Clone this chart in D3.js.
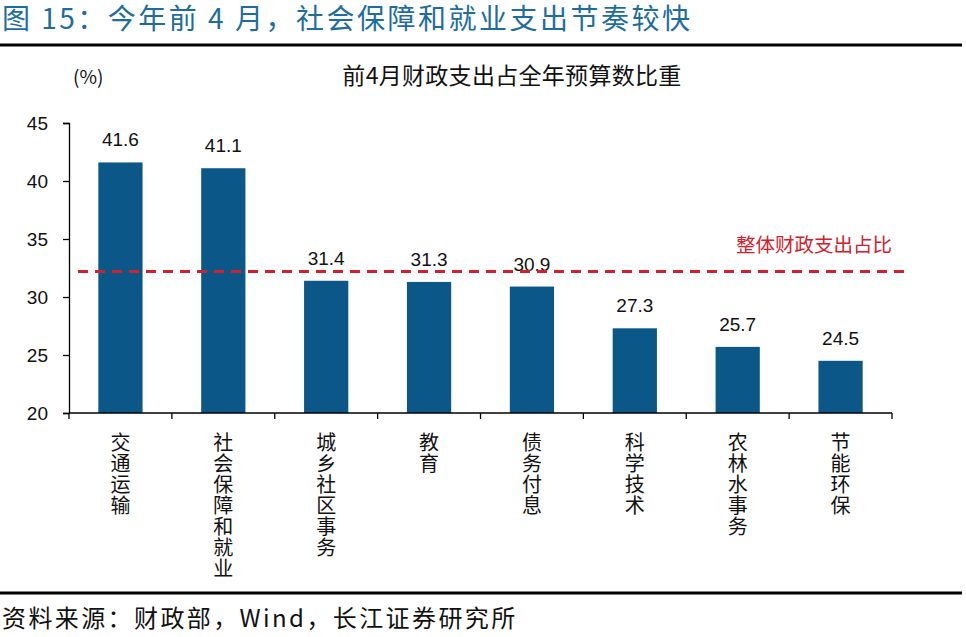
<!DOCTYPE html>
<html>
<head>
<meta charset="utf-8">
<script src="https://cdn.jsdelivr.net/npm/d3@7"></script>
<style>
  body { margin: 0; background: #fff; }
  svg { display: block; }
  .cjk { font-family: "Noto Sans CJK SC", sans-serif; }
  .num { font-family: "Liberation Sans", Arial, sans-serif; }
</style>
</head>
<body>
<svg id="chart" width="966" height="637"></svg>
<script>
// Data
const categories = ["交通运输", "社会保障和就业", "城乡社区事务", "教育", "债务付息", "科学技术", "农林水事务", "节能环保"];
const values = [41.6, 41.1, 31.4, 31.3, 30.9, 27.3, 25.7, 24.5];
const overallShare = 32.2;
const yTicks = [20, 25, 30, 35, 40, 45];

const titleText = "图 15：今年前 4 月，社会保障和就业支出节奏较快";
const subtitleText = "前4月财政支出占全年预算数比重";
const refLabel = "整体财政支出占比";
const sourceText = "资料来源：财政部，Wind，长江证券研究所";

const barColor = "#0b5788";
const refColor = "#d3202c";
const titleColor = "#1d6d9f";

const svg = d3.select("#chart");

let margin = { left: 69, right: 74, top: 123, bottom: 224 };
let W = 966, H = 637;

// Scales
let x = d3.scaleBand()
  .domain(categories)
  .range([margin.left, W - margin.right])
  .paddingInner(0.57)
  .paddingOuter(0.285);

let y = d3.scaleLinear()
  .domain([20, 45])
  .range([H - margin.bottom, margin.top]);

// Title and rules
svg.append("text")
  .attr("class", "cjk")
  .attr("x", 2)
  .attr("y", 29)
  .attr("fill", titleColor)
  .style("font-size", "28px")
  .style("letter-spacing", "2.5px")
  .text(titleText);

svg.append("line")
  .attr("x1", 0).attr("x2", 962)
  .attr("y1", 45).attr("y2", 45)
  .attr("stroke", "#000").attr("stroke-width", 3);

svg.append("line")
  .attr("x1", 0).attr("x2", 962)
  .attr("y1", 593).attr("y2", 593)
  .attr("stroke", "#000").attr("stroke-width", 3);

svg.append("text")
  .attr("class", "cjk")
  .attr("x", 2)
  .attr("y", 627)
  .attr("fill", "#111")
  .style("font-size", "24px")
  .style("letter-spacing", "2.4px")
  .text(sourceText);

// Unit and chart subtitle
svg.append("text")
  .attr("class", "cjk")
  .attr("x", 73)
  .attr("y", 84)
  .style("font-size", "19px")
  .attr("fill", "#111")
  .text("(%)");

svg.append("text")
  .attr("class", "cjk")
  .attr("x", 512)
  .attr("y", 84)
  .attr("text-anchor", "middle")
  .style("font-size", "23px")
  .style("letter-spacing", "0.3px")
  .attr("fill", "#111")
  .text(subtitleText);

// Bars
svg.append("g")
  .selectAll("rect")
  .data(values)
  .enter()
  .append("rect")
  .attr("x", (d, i) => x(categories[i]))
  .attr("y", d => y(d))
  .attr("width", x.bandwidth())
  .attr("height", d => y(20) - y(d))
  .attr("fill", barColor);

// Value labels
svg.append("g")
  .selectAll("text")
  .data(values)
  .enter()
  .append("text")
  .attr("class", "num")
  .attr("x", (d, i) => x(categories[i]) + x.bandwidth() / 2)
  .attr("y", d => y(d) - 16)
  .attr("text-anchor", "middle")
  .style("font-size", "19px")
  .attr("fill", "#111")
  .text(d => d.toFixed(1));

// Reference line
svg.append("line")
  .attr("x1", margin.left + 9)
  .attr("x2", W - margin.right + 15)
  .attr("y1", y(overallShare))
  .attr("y2", y(overallShare))
  .attr("stroke", refColor)
  .attr("stroke-width", 3)
  .attr("stroke-dasharray", "10,7");

svg.append("text")
  .attr("class", "cjk")
  .attr("x", 892)
  .attr("y", 252)
  .attr("text-anchor", "end")
  .style("font-size", "19.5px")
  .attr("fill", refColor)
  .text(refLabel);

// Y axis
let yAxis = svg.append("g")
  .attr("transform", `translate(${margin.left},0)`)
  .call(d3.axisLeft(y).tickValues(yTicks).tickSize(6).tickPadding(15));
yAxis.select(".domain").attr("stroke", "#000").attr("stroke-width", 1.3);
yAxis.selectAll(".tick line").attr("stroke", "#000").attr("stroke-width", 1.3);
yAxis.selectAll(".tick text")
  .attr("class", "num")
  .style("font-size", "19px")
  .attr("fill", "#111");

// X axis: line with ticks at band boundaries
let boundaries = categories.map(c => x(c) - x.step() * x.paddingInner() / 2)
  .concat([W - margin.right]);
let xg = svg.append("g");
xg.append("line")
  .attr("x1", margin.left).attr("x2", W - margin.right)
  .attr("y1", y(20)).attr("y2", y(20))
  .attr("stroke", "#000").attr("stroke-width", 1.3);
xg.selectAll("line.tk")
  .data(boundaries)
  .enter()
  .append("line")
  .attr("class", "tk")
  .attr("x1", d => d).attr("x2", d => d)
  .attr("y1", y(20)).attr("y2", y(20) + 6)
  .attr("stroke", "#000").attr("stroke-width", 1.3);

// Vertical category labels
let lbl = svg.append("g")
  .selectAll("text")
  .data(categories)
  .enter()
  .append("text")
  .attr("class", "cjk")
  .attr("text-anchor", "middle")
  .style("font-size", "20px")
  .attr("fill", "#111");

lbl.each(function (c) {
  let cx = x(c) + x.bandwidth() / 2;
  let t = d3.select(this);
  Array.from(c).forEach((ch, i) => {
    t.append("tspan")
      .attr("x", cx)
      .attr("y", 450 + i * 21)
      .text(ch);
  });
});
</script>
</body>
</html>
